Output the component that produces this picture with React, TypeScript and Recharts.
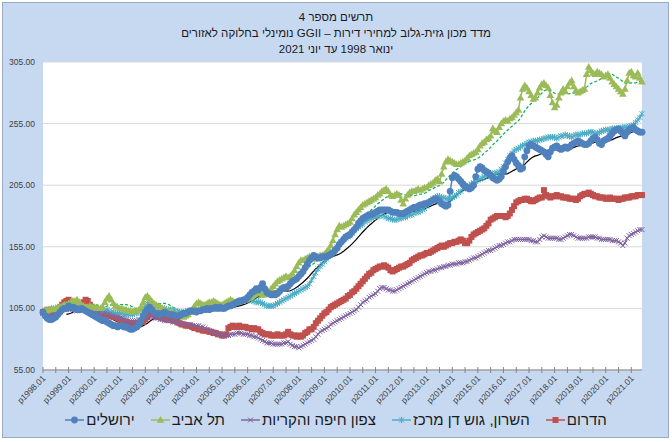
import { LineChart, Line, XAxis, YAxis, CartesianGrid } from "recharts";

// ──────────────────────────────────────────────
// Data (monthly index values, Jan 1998 – Jun 2021)
// ──────────────────────────────────────────────

const FIRST_YEAR = 1998;
const LAST_YEAR = 2021;
const LAST_MONTH = 6;

const months: string[] = [];
for (let y = FIRST_YEAR; y <= LAST_YEAR; y++) {
  for (let m = 1; m <= 12; m++) {
    if (y === LAST_YEAR && m > LAST_MONTH) break;
    months.push(`p${y}.${String(m).padStart(2, "0")}`);
  }
}

const yTicks = [55, 105, 155, 205, 255, 305];

// הדרום
const south = [
  102, 101, 103, 104, 102, 101, 102, 104, 106, 108, 110, 111,
  112, 109, 107, 106, 106, 107, 108, 110, 112, 111, 108, 106,
  105, 104, 103, 102, 101, 100, 100, 99, 99, 98, 98, 97,
  96, 95, 94, 94, 93, 93, 92, 92, 93, 93, 94, 94,
  96, 98, 100, 101, 100, 99, 98, 98, 97, 97, 96, 96,
  96, 95, 95, 94, 93, 92, 92, 91, 91, 91, 90, 89,
  89, 88, 88, 87, 87, 87, 86, 86, 85, 85, 84, 84,
  83, 83, 84, 89, 90, 91, 90, 90, 91, 90, 90, 90,
  89, 89, 88, 89, 88, 88, 86, 85, 84, 84, 84, 83,
  83, 83, 84, 83, 83, 83, 84, 86, 84, 83, 83, 82,
  83, 82, 83, 85, 86, 88, 88, 90, 93, 95, 97, 99,
  101, 102, 104, 106, 107, 108, 109, 110, 111, 112, 113, 115,
  116, 118, 119, 121, 123, 125, 127, 129, 131, 133, 134, 136,
  137, 138, 139, 139, 140, 139, 138, 136, 135, 136, 137, 138,
  139, 139, 140, 141, 142, 144, 145, 146, 147, 148, 148, 149,
  150, 150, 151, 152, 153, 154, 155, 156, 155, 156, 157, 158,
  158, 159, 159, 160, 161, 160, 158, 158, 160, 163, 165, 166,
  167, 168, 169, 170, 172, 174, 177, 178, 179, 180, 180, 180,
  180, 179, 180, 182, 185, 188, 191, 192, 193, 193, 194, 194,
  193, 192, 192, 193, 194, 195, 195, 201, 197, 196, 195, 196,
  196, 197, 196, 196, 195, 195, 195, 194, 194, 194, 193, 194,
  196, 197, 198, 198, 199, 198, 197, 196, 196, 195, 195, 195,
  194, 194, 195, 194, 194, 194, 193, 194, 194, 195, 195, 195,
  196, 196, 196, 197, 197, 197,
];

// השרון, גוש דן מרכז
const sharon = [
  101, 102, 103, 104, 104, 105, 105, 106, 106, 106, 105, 105,
  105, 105, 106, 106, 106, 105, 105, 105, 106, 106, 106, 105,
  105, 104, 104, 103, 103, 103, 104, 103, 102, 102, 101, 101,
  101, 101, 100, 100, 100, 100, 100, 101, 101, 102, 103, 105,
  107, 109, 110, 109, 108, 107, 106, 106, 105, 105, 104, 104,
  104, 103, 103, 102, 102, 102, 102, 102, 103, 103, 103, 103,
  103, 104, 104, 104, 105, 105, 105, 106, 106, 105, 105, 105,
  106, 106, 107, 107, 108, 108, 109, 110, 110, 111, 111, 112,
  112, 112, 111, 111, 110, 110, 110, 109, 108, 107, 107, 107,
  107, 108, 109, 110, 111, 112, 113, 114, 115, 116, 117, 118,
  119, 120, 121, 122, 123, 125, 128, 131, 134, 137, 139, 141,
  143, 145, 147, 149, 151, 153, 155, 157, 159, 161, 162, 163,
  164, 166, 168, 170, 171, 172, 173, 175, 176, 177, 178, 179,
  179, 180, 180, 181, 180, 179, 178, 178, 177, 177, 177, 178,
  178, 179, 179, 180, 181, 181, 182, 183, 183, 184, 185, 186,
  188, 190, 192, 194, 195, 196, 196, 195, 195, 194, 194, 194,
  195, 196, 197, 199, 200, 202, 203, 204, 205, 206, 207, 208,
  209, 210, 211, 212, 213, 213, 214, 214, 215, 215, 216, 218,
  220, 223, 226, 229, 231, 233, 234, 235, 236, 237, 238, 239,
  240, 240, 241, 241, 241, 242, 242, 243, 243, 244, 244, 244,
  244, 243, 244, 245, 245, 246, 245, 245, 244, 245, 246, 246,
  246, 247, 247, 247, 248, 248, 248, 247, 247, 248, 249, 249,
  250, 250, 250, 251, 251, 251, 251, 251, 252, 252, 252, 253,
  253, 254, 256, 258, 260, 263,
];

// צפון חיפה והקריות
const north = [
  101, 100, 100, 99, 100, 101, 102, 103, 103, 104, 104, 105,
  105, 104, 104, 103, 103, 104, 104, 105, 105, 104, 104, 103,
  103, 103, 102, 102, 101, 101, 100, 100, 99, 99, 98, 98,
  97, 97, 96, 96, 95, 95, 95, 95, 95, 96, 96, 96,
  97, 98, 98, 99, 98, 97, 97, 96, 96, 95, 95, 95,
  95, 94, 94, 93, 93, 93, 92, 92, 92, 92, 91, 91,
  91, 91, 90, 90, 89, 88, 87, 86, 86, 85, 84, 84,
  83, 83, 83, 83, 84, 84, 84, 85, 85, 85, 84, 84,
  84, 83, 83, 82, 82, 81, 80, 79, 78, 77, 77, 77,
  76, 76, 76, 76, 76, 77, 77, 78, 76, 75, 74, 74,
  73, 74, 75, 76, 77, 78, 79, 80, 82, 84, 86, 87,
  88, 89, 90, 92, 93, 94, 95, 96, 97, 98, 99, 100,
  101, 102, 103, 104, 106, 108, 110, 111, 112, 114, 115, 116,
  117, 119, 121, 122, 122, 121, 120, 120, 119, 119, 120, 121,
  122, 123, 124, 125, 126, 127, 128, 129, 130, 131, 132, 133,
  134, 135, 135, 136, 136, 137, 138, 138, 139, 139, 140, 140,
  141, 141, 141, 142, 142, 142, 143, 143, 144, 145, 146, 146,
  147, 148, 149, 150, 151, 152, 152, 153, 154, 155, 156, 156,
  157, 158, 159, 159, 160, 161, 161, 161, 161, 161, 161, 161,
  161, 160, 160, 159, 159, 161, 163, 164, 163, 162, 162, 162,
  162, 162, 161, 161, 162, 163, 164, 165, 165, 164, 163, 162,
  162, 162, 162, 162, 163, 163, 163, 163, 162, 162, 161, 161,
  161, 161, 161, 160, 160, 160, 159, 158, 156, 158, 162, 164,
  165, 166, 167, 168, 169, 169,
];

// תל אביב
const telAviv = [
  103, 104, 103, 104, 105, 104, 105, 106, 106, 107, 108, 108,
  109, 110, 111, 111, 112, 110, 108, 107, 106, 106, 107, 106,
  106, 105, 105, 105, 106, 110, 113, 115, 112, 109, 107, 106,
  105, 105, 104, 104, 103, 103, 102, 103, 103, 104, 106, 110,
  114, 115, 113, 111, 109, 108, 107, 106, 105, 104, 103, 102,
  102, 101, 100, 100, 99, 99, 98, 99, 100, 102, 104, 107,
  109, 110, 109, 108, 108, 109, 110, 110, 111, 110, 109, 108,
  108, 109, 110, 111, 112, 111, 110, 110, 111, 111, 112, 112,
  113, 114, 115, 116, 117, 118, 117, 116, 116, 117, 119, 121,
  123, 125, 127, 128, 129, 130, 131, 130, 131, 133, 136, 139,
  142, 144, 144, 145, 146, 147, 146, 145, 146, 147, 148, 148,
  149, 151, 153, 156, 160, 165, 169, 172, 171, 172, 173, 174,
  175, 178, 181, 183, 185, 187, 189, 190, 191, 192, 193, 194,
  195, 197, 198, 200, 201, 202, 200, 197, 196, 197, 198, 197,
  193, 190, 194, 197, 199, 200, 200, 201, 202, 201, 202, 203,
  203, 205, 206, 207, 209, 210, 208, 214, 220, 224, 226, 225,
  224, 223, 222, 222, 223, 224, 225, 227, 229, 230, 231, 232,
  234, 237, 239, 240, 242, 243, 245, 251, 249, 248, 252, 255,
  257, 258, 257, 259, 260, 262, 264, 266, 276, 283, 286, 284,
  281, 278, 275, 276, 280, 284, 287, 288, 286, 284, 278, 272,
  268, 270, 276, 280, 283, 281, 285, 288, 290, 285, 282, 280,
  281, 282, 283, 295, 301, 298, 296, 295, 297, 296, 295, 293,
  294, 295, 292, 289, 287, 285, 283, 281, 279, 283, 290, 296,
  297, 294, 293, 296, 292, 289,
];

// ירושלים
const jerusalem = [
  102, 99, 97, 96, 96, 97, 98, 100, 102, 104, 105, 105,
  107, 106, 106, 105, 104, 104, 105, 104, 103, 102, 101, 100,
  99, 98, 97, 96, 95, 95, 94, 93, 92, 91, 91, 90,
  91, 91, 90, 90, 89, 88, 88, 89, 90, 92, 95, 99,
  102, 104, 106, 104, 102, 101, 101, 100, 101, 102, 101, 100,
  100, 100, 99, 99, 99, 100, 101, 101, 102, 103, 103, 103,
  102, 103, 103, 104, 104, 105, 104, 105, 105, 106, 105, 106,
  105, 105, 106, 107, 107, 108, 109, 110, 111, 111, 112, 112,
  114, 116, 118, 119, 121, 120, 122, 125, 121, 118, 117, 116,
  116, 116, 117, 119, 121, 122, 122, 123, 125, 127, 128, 129,
  131, 133, 135, 138, 141, 144, 146, 148, 147, 146, 146, 147,
  147, 147, 148, 149, 150, 152, 154, 157, 159, 161, 163, 164,
  165, 167, 169, 171, 174, 176, 178, 179, 180, 181, 181, 182,
  183, 184, 185, 185, 185, 185, 185, 184, 183, 183, 183, 182,
  182, 182, 183, 184, 185, 186, 187, 187, 188, 189, 189, 190,
  190, 191, 192, 193, 194, 193, 192, 190, 189, 188, 189, 200,
  211, 213, 212, 210, 208, 206, 204, 203, 202, 203, 205, 212,
  218, 220, 219, 217, 216, 215, 213, 211, 210, 209, 210, 212,
  216, 220, 224, 227, 229, 226, 223, 221, 218, 219, 228, 233,
  237, 238, 237, 236, 235, 234, 233, 232, 230, 228, 232, 235,
  236, 237, 235, 234, 235, 236, 235, 236, 238, 239, 240, 241,
  240, 239, 238, 238, 239, 241, 243, 244, 242, 239, 238, 241,
  242, 243, 245, 247, 249, 250, 251, 249, 247, 245, 248, 250,
  251, 252, 250, 249, 248, 248,
];

// ──────────────────────────────────────────────
// Helpers
// ──────────────────────────────────────────────

// 12-month trailing moving average, like an Excel trendline
function movingAverage(values: number[], period: number): (number | null)[] {
  return values.map((_, i) => {
    if (i < period - 1) return null;
    let sum = 0;
    for (let k = i - period + 1; k <= i; k++) sum += values[k];
    return sum / period;
  });
}

const jerusalemTrend = movingAverage(jerusalem, 12);
const telAvivTrend = movingAverage(telAviv, 12);

const data = months.map((label, i) => ({
  label,
  south: south[i],
  sharon: sharon[i],
  north: north[i],
  telAviv: telAviv[i],
  jerusalem: jerusalem[i],
  jerusalemTrend: jerusalemTrend[i],
  telAvivTrend: telAvivTrend[i],
}));

const xTicks = months.filter((m) => m.endsWith(".01") || m.endsWith(".07"));

const RED = "#c0504d";
const CYAN = "#4bacc6";
const PURPLE = "#8064a2";
const GREEN = "#9bbb59";
const BLUE = "#4f81bd";
const FONT = '"Liberation Sans", Arial, sans-serif';

// ──────────────────────────────────────────────
// Markers
// ──────────────────────────────────────────────

type MarkerKind = "square" | "star" | "x" | "triangle" | "circle";

function Marker({ kind, cx, cy, color }: { kind: MarkerKind; cx: number; cy: number; color: string }) {
  switch (kind) {
    case "square":
      return <rect x={cx - 3} y={cy - 3} width={6} height={6} fill={color} />;
    case "circle":
      return <circle cx={cx} cy={cy} r={3.4} fill={color} />;
    case "triangle":
      return <path d={`M${cx},${cy - 4}L${cx + 3.8},${cy + 2.7}L${cx - 3.8},${cy + 2.7}Z`} fill={color} />;
    case "x":
      return (
        <path d={`M${cx - 2.5},${cy - 2.5}L${cx + 2.5},${cy + 2.5}M${cx - 2.5},${cy + 2.5}L${cx + 2.5},${cy - 2.5}`} stroke={color} strokeWidth={1} />
      );
    case "star":
      return (
        <path
          d={`M${cx - 2.5},${cy - 2.5}L${cx + 2.5},${cy + 2.5}M${cx - 2.5},${cy + 2.5}L${cx + 2.5},${cy - 2.5}M${cx},${cy - 3.2}L${cx},${cy + 3.2}`}
          stroke={color}
          strokeWidth={1}
        />
      );
  }
}

const dotOf = (kind: MarkerKind, color: string) => (props: any) => {
  const { cx, cy, index } = props;
  if (cx == null || cy == null) return <g key={index} />;
  return <Marker key={index} kind={kind} cx={cx} cy={cy} color={color} />;
};

function XTick(props: any) {
  const { x, y, payload } = props;
  const label: string = payload.value;
  const showText = label.endsWith(".01");
  return (
    <g>
      <line x1={x} y1={y - 3} x2={x} y2={y + 3} stroke="#868686" strokeWidth={1} />
      {showText && (
        <text
          x={x + 3}
          y={y + 9}
          textAnchor="end"
          fontSize={8.5}
          fontFamily={FONT}
          fill="#404040"
          transform={`rotate(-45, ${x + 3}, ${y + 9})`}
        >
          {label}
        </text>
      )}
    </g>
  );
}

const legendItems: { name: string; color: string; kind: MarkerKind }[] = [
  { name: "ירושלים", color: BLUE, kind: "circle" },
  { name: "תל אביב", color: GREEN, kind: "triangle" },
  { name: "צפון חיפה והקריות", color: PURPLE, kind: "x" },
  { name: "השרון, גוש דן מרכז", color: CYAN, kind: "star" },
  { name: "הדרום", color: RED, kind: "square" },
];

// ──────────────────────────────────────────────
// Component
// ──────────────────────────────────────────────

export default function App() {
  return (
    <div style={{ position: "absolute", left: 0, top: 0, width: 672, height: 442, background: "#ffffff", fontFamily: FONT }}>
      <div
        style={{
          position: "absolute",
          left: 2,
          top: 2,
          width: 667,
          height: 436,
          boxSizing: "border-box",
          background: "#c6d9f1",
          border: "1px solid #98aac2",
        }}
      />

      {/* ── Title ── */}
      <div
        dir="rtl"
        style={{
          position: "absolute",
          left: 0,
          top: 9,
          width: 672,
          textAlign: "center",
          fontSize: 11.5,
          lineHeight: "16px",
          color: "#1a1a1a",
        }}
      >
        <div>תרשים מספר 4</div>
        <div>מדד מכון גזית-גלוב למחירי דירות – GGII נומינלי בחלוקה לאזורים</div>
        <div>ינואר 1998 עד יוני 2021</div>
      </div>

      <div style={{ position: "absolute", left: 0, top: 0 }}>
        <LineChart width={672} height={442} data={data} margin={{ top: 62, right: 30, bottom: 32, left: 0 }}>
          <CartesianGrid vertical={false} stroke="#d9d9d9" fill="#ffffff" />
          <XAxis
            dataKey="label"
            ticks={xTicks}
            interval={0}
            tick={XTick}
            tickLine={false}
            tickSize={0}
            tickMargin={0}
            height={40}
            axisLine={{ stroke: "#868686" }}
          />
          <YAxis
            domain={[55, 305]}
            ticks={yTicks}
            width={43}
            axisLine={false}
            tickLine={false}
            tickSize={0}
            tickMargin={8}
            tickFormatter={(v: number) => v.toFixed(2)}
            tick={{ fontSize: 8.5, fill: "#404040", fontFamily: FONT }}
          />
          <Line dataKey="south" stroke={RED} strokeWidth={1.5} dot={dotOf("square", RED)} isAnimationActive={false} />
          <Line dataKey="sharon" stroke={CYAN} strokeWidth={1.5} dot={dotOf("star", CYAN)} isAnimationActive={false} />
          <Line dataKey="north" stroke={PURPLE} strokeWidth={1.5} dot={dotOf("x", PURPLE)} isAnimationActive={false} />
          <Line dataKey="telAviv" stroke={GREEN} strokeWidth={1.5} dot={dotOf("triangle", GREEN)} isAnimationActive={false} />
          <Line dataKey="jerusalem" stroke={BLUE} strokeWidth={1.5} dot={dotOf("circle", BLUE)} isAnimationActive={false} />
          <Line dataKey="jerusalemTrend" stroke="#000000" strokeWidth={1.2} dot={false} isAnimationActive={false} />
          <Line
            dataKey="telAvivTrend"
            stroke="#00b050"
            strokeWidth={1.2}
            strokeDasharray="3 2"
            dot={false}
            isAnimationActive={false}
          />
        </LineChart>
      </div>

      {/* ── Legend ── */}
      <div
        style={{
          position: "absolute",
          left: 0,
          top: 410,
          width: 672,
          display: "flex",
          justifyContent: "center",
          gap: 16,
          fontSize: 15,
          lineHeight: "20px",
          color: "#1a1a1a",
        }}
      >
        {legendItems.map((item) => (
          <div key={item.name} style={{ display: "flex", alignItems: "center", gap: 2 }}>
            <svg width={19} height={10}>
              <line x1={0} y1={5} x2={19} y2={5} stroke={item.color} strokeWidth={1.5} />
              <Marker kind={item.kind} cx={9.5} cy={5} color={item.color} />
            </svg>
            <span dir="rtl">{item.name}</span>
          </div>
        ))}
      </div>
    </div>
  );
}
